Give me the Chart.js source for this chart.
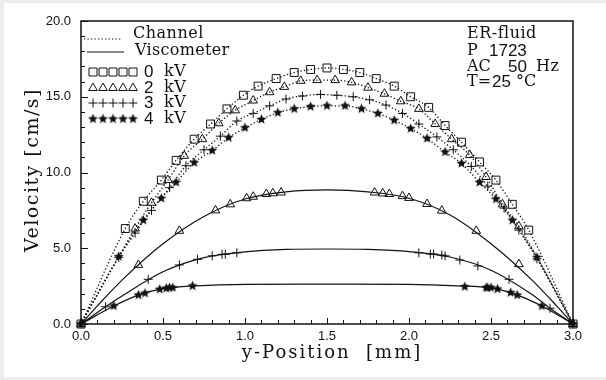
<!DOCTYPE html>
<html>
<head>
<meta charset="utf-8">
<script src="https://cdn.jsdelivr.net/npm/chart.js@4"></script>
<style>
  html, body { margin: 0; padding: 0; background: #fff; }
  canvas { display: block; }
</style>
</head>
<body>
<canvas id="chart" width="606" height="380"></canvas>
<script>
// Channel measurements (dotted lines), y-position in mm, velocity in cm/s
const ch0X = [0, 0.27, 0.38, 0.49, 0.58, 0.69, 0.79, 0.89, 0.99, 1.08, 1.19, 1.30, 1.40, 1.50, 1.60, 1.70, 1.80, 1.91, 2.01, 2.12, 2.22, 2.32, 2.43, 2.53, 2.63, 2.73, 3.0];
const ch0Y = [0, 6.3, 8.1, 9.5, 10.8, 12.2, 13.2, 14.2, 15.1, 15.7, 16.2, 16.6, 16.8, 16.9, 16.8, 16.6, 16.2, 15.7, 15.0, 14.3, 13.1, 12.0, 10.7, 9.5, 7.9, 6.2, 0];

const ch2X = [0, 0.33, 0.43, 0.53, 0.63, 0.74, 0.84, 0.94, 1.05, 1.15, 1.24, 1.34, 1.44, 1.55, 1.65, 1.75, 1.85, 1.95, 2.06, 2.16, 2.26, 2.37, 2.47, 2.57, 2.67, 3.0];
const ch2Y = [0, 6.3, 8.0, 9.5, 11.1, 12.2, 13.25, 14.1, 14.75, 15.3, 15.65, 16.05, 16.1, 16.1, 15.95, 15.6, 15.2, 14.7, 14.2, 13.2, 12.2, 11.15, 9.7, 7.9, 6.45, 0];

const ch3X = [0, 0.23, 0.33, 0.43, 0.54, 0.64, 0.75, 0.85, 0.95, 1.05, 1.15, 1.25, 1.35, 1.46, 1.56, 1.66, 1.76, 1.86, 1.96, 2.06, 2.17, 2.27, 2.38, 2.48, 2.58, 2.67, 2.78, 3.0];
const ch3Y = [0, 4.4, 6.0, 7.5, 9.0, 10.45, 11.5, 12.4, 13.4, 13.9, 14.4, 14.85, 15.05, 15.15, 15.1, 15.0, 14.8, 14.45, 13.9, 13.2, 12.35, 11.5, 10.4, 9.1, 7.65, 6.2, 4.3, 0];

const ch4X = [0, 0.23, 0.38, 0.49, 0.58, 0.69, 0.80, 0.90, 1.00, 1.10, 1.20, 1.30, 1.40, 1.50, 1.61, 1.71, 1.81, 1.91, 2.01, 2.11, 2.22, 2.32, 2.43, 2.53, 2.63, 2.78, 3.0];
const ch4Y = [0, 4.45, 6.85, 8.3, 9.35, 10.65, 11.45, 12.3, 12.95, 13.5, 13.95, 14.2, 14.35, 14.4, 14.4, 14.2, 13.9, 13.45, 12.9, 12.25, 11.35, 10.6, 9.35, 8.25, 6.85, 4.4, 0];

// Viscometer measured points (markers on the solid curves)
const vi2X = [0.35, 0.60, 0.82, 0.91, 1.01, 1.05, 1.13, 1.17, 1.22, 1.79, 1.84, 1.88, 1.96, 2.00, 2.11, 2.20, 2.41, 2.67];
const vi2Y = [3.9, 6.15, 7.5, 7.9, 8.3, 8.4, 8.58, 8.63, 8.68, 8.68, 8.62, 8.58, 8.44, 8.32, 7.92, 7.48, 6.15, 3.95];
const vi3X = [0.15, 0.41, 0.60, 0.71, 0.80, 0.86, 0.88, 0.95, 2.06, 2.13, 2.15, 2.20, 2.22, 2.31, 2.42, 2.61, 2.86];
const vi3Y = [1.14, 2.95, 3.9, 4.27, 4.5, 4.6, 4.6, 4.7, 4.7, 4.62, 4.62, 4.55, 4.5, 4.22, 3.83, 2.95, 1.04];
const vi4X = [0.20, 0.35, 0.39, 0.48, 0.52, 0.54, 0.56, 0.68, 2.34, 2.47, 2.48, 2.50, 2.54, 2.62, 2.66, 2.81];
const vi4Y = [1.19, 1.91, 2.03, 2.29, 2.36, 2.4, 2.4, 2.51, 2.46, 2.4, 2.4, 2.4, 2.31, 2.07, 1.91, 1.19];

// Viscometer solid curves
const cu2X = [0, 0.1, 0.25, 0.5, 0.75, 1.0, 1.25, 1.5, 1.75, 2.0, 2.25, 2.5, 2.75, 2.9, 3.0];
const cu2Y = [0, 1.2, 2.9, 5.3, 7.1, 8.25, 8.72, 8.85, 8.72, 8.3, 7.2, 5.3, 2.9, 1.2, 0];
const cu3X = [0, 0.15, 0.25, 0.5, 0.75, 1.0, 1.25, 1.5, 1.75, 2.0, 2.25, 2.5, 2.75, 2.86, 3.0];
const cu3Y = [0, 1.14, 1.85, 3.45, 4.38, 4.76, 4.92, 4.95, 4.92, 4.78, 4.42, 3.55, 1.95, 1.04, 0];
const cu4X = [0, 0.2, 0.35, 0.5, 0.7, 1.0, 1.5, 2.0, 2.3, 2.5, 2.66, 2.81, 3.0];
const cu4Y = [0, 1.19, 1.91, 2.33, 2.52, 2.62, 2.63, 2.62, 2.52, 2.38, 1.91, 1.19, 0];

const xTicks = [0, 0.5, 1.0, 1.5, 2.0, 2.5, 3.0];
const yTicks = [0, 5, 10, 15, 20];
const voltages = ["0", "2", "3", "4"];

const INK = "#111";
const SERIF = "'DejaVu Serif', serif";
const SANS = "'Liberation Sans', Arial, sans-serif";

function pts(xs, ys) {
  return xs.map(function (x, i) { return { x: x, y: ys[i] }; });
}

// filled five point star used as a point style
function starImage(r) {
  var c = document.createElement("canvas");
  var s = Math.ceil(r * 2) + 2;
  c.width = s;
  c.height = s;
  var g = c.getContext("2d");
  g.translate(s / 2, s / 2);
  g.beginPath();
  for (var i = 0; i < 10; i++) {
    var rr = i % 2 ? r * 0.45 : r;
    var a = -Math.PI / 2 + i * Math.PI / 5;
    g.lineTo(rr * Math.cos(a), rr * Math.sin(a));
  }
  g.closePath();
  g.fillStyle = INK;
  g.fill();
  return c;
}
const star = starImage(5.2);

const marks = [
  { pointStyle: "rect", pointRadius: 5.6 },
  { pointStyle: "triangle", pointRadius: 5 },
  { pointStyle: "cross", pointRadius: 4.5 },
  { pointStyle: star, pointRadius: 5 },
];

function channel(xs, ys, m) {
  return {
    data: pts(xs, ys),
    showLine: true,
    borderColor: INK,
    borderWidth: 1.3,
    borderDash: [1.3, 2.2],
    cubicInterpolationMode: "monotone",
    pointStyle: m.pointStyle,
    pointRadius: m.pointRadius,
    pointBorderColor: INK,
    pointBorderWidth: 1,
    pointBackgroundColor: "rgba(255,255,255,0)",
    clip: false,
  };
}

function viscCurve(xs, ys) {
  return {
    data: pts(xs, ys),
    showLine: true,
    borderColor: INK,
    borderWidth: 1.2,
    cubicInterpolationMode: "monotone",
    pointRadius: 0,
    clip: false,
  };
}

function viscMarks(xs, ys, m) {
  return {
    data: pts(xs, ys),
    showLine: false,
    pointStyle: m.pointStyle,
    pointRadius: m.pointRadius,
    pointBorderColor: INK,
    pointBorderWidth: 1,
    pointBackgroundColor: "rgba(255,255,255,0)",
    clip: false,
  };
}

function drawMarker(ctx, k, x, y) {
  ctx.save();
  ctx.strokeStyle = INK;
  ctx.lineWidth = 1;
  ctx.beginPath();
  if (k === 0) {
    ctx.rect(x - 4, y - 4, 8, 8);
    ctx.stroke();
  } else if (k === 1) {
    ctx.moveTo(x, y - 5);
    ctx.lineTo(x + 4.3, y + 2.5);
    ctx.lineTo(x - 4.3, y + 2.5);
    ctx.closePath();
    ctx.stroke();
  } else if (k === 2) {
    ctx.moveTo(x - 4.5, y);
    ctx.lineTo(x + 4.5, y);
    ctx.moveTo(x, y - 4.5);
    ctx.lineTo(x, y + 4.5);
    ctx.stroke();
  } else {
    ctx.drawImage(star, x - star.width / 2, y - star.height / 2);
  }
  ctx.restore();
}

function text(ctx, str, x, y, font, spacing) {
  ctx.font = font;
  ctx.letterSpacing = spacing || "0px";
  ctx.fillText(str, x, y);
  ctx.letterSpacing = "0px";
}

const paper = {
  id: "paper",
  beforeDraw: function (chart) {
    var ctx = chart.ctx;
    ctx.save();
    ctx.fillStyle = "#ececec";
    ctx.fillRect(0, 0, chart.width, chart.height);
    ctx.fillStyle = "#fff";
    ctx.fillRect(4, 3, chart.width - 4, chart.height - 6);
    ctx.restore();
  },
  afterDraw: function (chart) {
    var ctx = chart.ctx;
    var a = chart.chartArea;
    var xs = chart.scales.x;
    var ys = chart.scales.y;
    ctx.save();
    ctx.strokeStyle = INK;
    ctx.fillStyle = INK;

    // frame
    ctx.lineWidth = 1.5;
    ctx.strokeRect(a.left, a.top, a.right - a.left, a.bottom - a.top);

    // inward ticks
    ctx.lineWidth = 1;
    ctx.beginPath();
    for (var i = 0; i <= 30; i++) {
      var px = Math.round(xs.getPixelForValue(i / 10)) + 0.5;
      var len = i % 5 === 0 ? 6 : 4;
      ctx.moveTo(px, a.bottom);
      ctx.lineTo(px, a.bottom - len);
    }
    for (var j = 0; j <= 20; j++) {
      var py = Math.round(ys.getPixelForValue(j)) + 0.5;
      var l2 = j % 5 === 0 ? 7 : 4;
      ctx.moveTo(a.left, py);
      ctx.lineTo(a.left + l2, py);
    }
    ctx.stroke();

    // legend
    ctx.textBaseline = "middle";
    ctx.textAlign = "left";
    ctx.save();
    ctx.lineWidth = 1.2;
    ctx.setLineDash([1.3, 2.2]);
    ctx.beginPath();
    ctx.moveTo(84, 39);
    ctx.lineTo(122, 39);
    ctx.stroke();
    ctx.setLineDash([]);
    ctx.beginPath();
    ctx.moveTo(87, 52);
    ctx.lineTo(124, 52);
    ctx.stroke();
    ctx.restore();
    text(ctx, "Channel", 133, 34, "16px " + SERIF, "0.5px");
    text(ctx, "Viscometer", 135, 51, "16px " + SERIF, "0.3px");
    var rows = [72, 88, 103, 119];
    rows.forEach(function (ry, k) {
      for (var n = 0; n < 5; n++) drawMarker(ctx, k, 93 + n * 10, ry);
      text(ctx, voltages[k], 144, ry, "17px " + SANS);
      text(ctx, "kV", 164, ry, "16px " + SERIF, "0.5px");
    });

    // conditions
    text(ctx, "ER-fluid", 467, 34, "16px " + SERIF, "0.5px");
    text(ctx, "P", 467, 51, "16px " + SERIF);
    text(ctx, "1723", 489, 51, "17px " + SANS);
    text(ctx, "AC", 467, 67, "16px " + SERIF);
    text(ctx, "50", 508, 67, "17px " + SANS);
    text(ctx, "Hz", 536, 67, "16px " + SERIF, "0.5px");
    text(ctx, "T=", 467, 82, "16px " + SERIF);
    text(ctx, "25", 492, 82, "17px " + SANS);
    text(ctx, "°C", 516, 82, "16px " + SERIF);

    // axis titles
    ctx.textAlign = "center";
    text(ctx, "y-Position  [mm]", 332, 353, "18px " + SERIF, "2px");
    ctx.save();
    ctx.translate(33, 170);
    ctx.rotate(-Math.PI / 2);
    text(ctx, "Velocity [cm/s]", 0, 0, "19px " + SERIF, "1.5px");
    ctx.restore();

    ctx.restore();
  },
};

const ctx = document.getElementById("chart").getContext("2d");
const myChart = new Chart(ctx, {
  type: "scatter",
  data: {
    datasets: [
      channel(ch0X, ch0Y, marks[0]),
      channel(ch2X, ch2Y, marks[1]),
      channel(ch3X, ch3Y, marks[2]),
      channel(ch4X, ch4Y, marks[3]),
      viscCurve(cu2X, cu2Y),
      viscCurve(cu3X, cu3Y),
      viscCurve(cu4X, cu4Y),
      viscMarks(vi2X, vi2Y, marks[1]),
      viscMarks(vi3X, vi3Y, marks[2]),
      viscMarks(vi4X, vi4Y, marks[3]),
    ],
  },
  options: {
    responsive: false,
    animation: false,
    devicePixelRatio: 1,
    layout: {
      padding: { top: 21, right: 33, left: 0, bottom: 0 },
    },
    plugins: {
      legend: { display: false },
      tooltip: { enabled: false },
    },
    scales: {
      x: {
        type: "linear",
        min: 0,
        max: 3,
        afterBuildTicks: function (scale) {
          scale.ticks = xTicks.map(function (v) { return { value: v }; });
        },
        afterFit: function (scale) { scale.height = 56; },
        ticks: {
          padding: 5,
          color: INK,
          font: { family: SANS, size: 13 },
          callback: function (v) { return Number(v).toFixed(1); },
        },
        grid: { display: false, drawTicks: false },
        border: { display: false },
      },
      y: {
        type: "linear",
        min: 0,
        max: 20,
        afterBuildTicks: function (scale) {
          scale.ticks = yTicks.map(function (v) { return { value: v }; });
        },
        afterFit: function (scale) { scale.width = 81; },
        ticks: {
          padding: 10,
          color: INK,
          font: { family: SANS, size: 13 },
          callback: function (v) { return Number(v).toFixed(1); },
        },
        grid: { display: false, drawTicks: false },
        border: { display: false },
      },
    },
  },
  plugins: [paper],
});
</script>
</body>
</html>
